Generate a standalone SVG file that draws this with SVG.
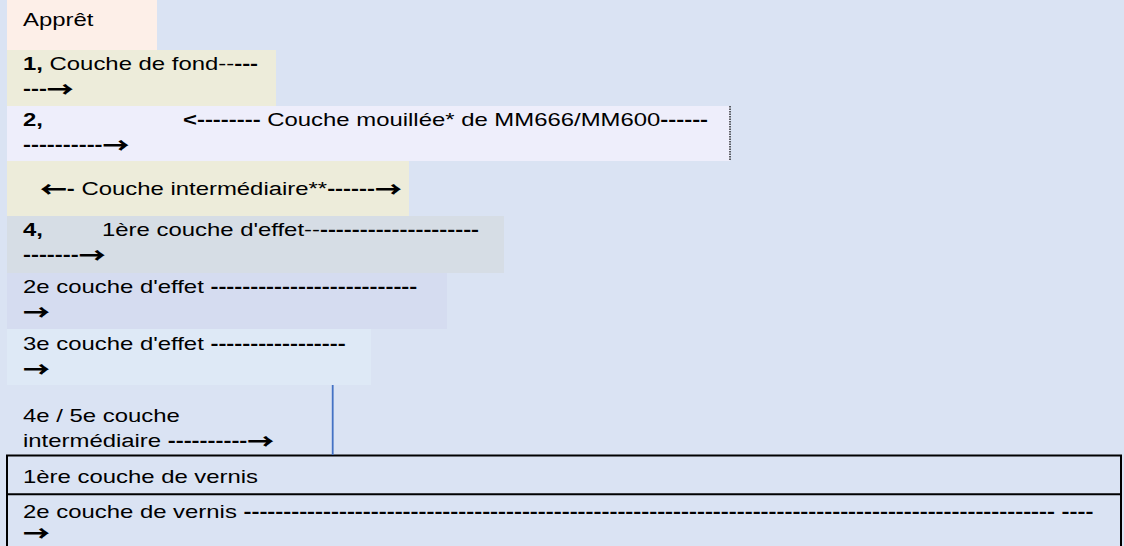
<svg xmlns="http://www.w3.org/2000/svg" width="1124" height="546" viewBox="0 0 1124 546">
<style>
text{font-family:"Liberation Sans",Arial,sans-serif;font-size:18.67px;fill:#000}
.b{font-weight:bold}
.ar{font-family:"Noto Sans CJK SC","DejaVu Sans",sans-serif;font-weight:900;font-size:21px}
.layer{stroke:none}
</style>
<rect x="0" y="0" width="1124" height="546" fill="#DAE3F3"/>
<g id="appret">
<rect class="layer" x="7" y="0" width="150" height="50" fill="#FDEFE8"/>
<text transform="translate(23,26) scale(1.28,1)">Apprêt</text>
</g>
<g id="couche-fond">
<rect class="layer" x="7" y="50" width="269" height="56" fill="#EDECDA"/>
<text transform="translate(23,70) scale(1.28,1)"><tspan class="b">1,</tspan> Couche de fond--<tspan class="b">---</tspan></text>
<text class="b" transform="translate(23,95) scale(1.28,1)">---<tspan class="ar" dy="2">→</tspan></text>
</g>
<g id="couche-mouillee">
<rect class="layer" x="7" y="106" width="723" height="55" fill="#EEEEFB"/>
<text class="b" transform="translate(23,126) scale(1.28,1)">2,</text>
<text transform="translate(183,126) scale(1.28,1)"><tspan class="b">&lt;--------</tspan> Couche mouillée* de MM666/MM600<tspan class="b">------</tspan></text>
<text class="b" transform="translate(23,151) scale(1.28,1)">----------<tspan class="ar" dy="2">→</tspan></text>
</g>
<g id="couche-intermediaire">
<rect class="layer" x="7" y="161" width="402" height="55" fill="#EDECDA"/>
<text transform="translate(40,195) scale(1.28,1)"><tspan class="ar" dy="2">←</tspan><tspan class="b" dy="-2">-</tspan> Couche intermédiaire**<tspan class="b">------</tspan><tspan class="ar" dy="2">→</tspan></text>
</g>
<g id="effet-1">
<rect class="layer" x="7" y="216" width="497" height="57" fill="#D6DDE5"/>
<text class="b" transform="translate(23,236) scale(1.28,1)">4,</text>
<text transform="translate(102,236) scale(1.28,1)">1ère couche d'effet--<tspan class="b">--------------------</tspan></text>
<text class="b" transform="translate(23,261) scale(1.28,1)">-------<tspan class="ar" dy="2">→</tspan></text>
</g>
<g id="effet-2">
<rect class="layer" x="7" y="273" width="440" height="56" fill="#D5DCF0"/>
<text transform="translate(23,293) scale(1.28,1)">2e couche d'effet <tspan class="b">--------------------------</tspan></text>
<text class="ar" transform="translate(23,320) scale(1.28,1)">→</text>
</g>
<g id="effet-3">
<rect class="layer" x="7" y="329" width="364" height="56" fill="#DEE9F6"/>
<text transform="translate(23,350) scale(1.28,1)">3e couche d'effet <tspan class="b">-----------------</tspan></text>
<text class="ar" transform="translate(23,377) scale(1.28,1)">→</text>
</g>
<g id="intermediaire-4-5">
<text transform="translate(23,422) scale(1.28,1)">4e / 5e couche</text>
<text transform="translate(23,447) scale(1.28,1)">intermédiaire <tspan class="b">----------</tspan><tspan class="ar" dy="2">→</tspan></text>
</g>
<g id="vernis">
<rect x="7" y="455.5" width="1114" height="100" fill="none" stroke="#000" stroke-width="2"/>
<line x1="7" y1="494.3" x2="1121" y2="494.3" stroke="#000" stroke-width="2"/>
<text transform="translate(23,483) scale(1.28,1)">1ère couche de vernis</text>
<text transform="translate(23,518) scale(1.28,1)">2e couche de vernis <tspan class="b">------------------------------------------------------------------------------------------------------ ----</tspan></text>
<text class="ar" transform="translate(23,541) scale(1.28,1)">→</text>
</g>
<g id="connectors">
<line x1="730" y1="106" x2="730" y2="161" stroke="#000" stroke-width="1.2" stroke-dasharray="1.5 1"/>
<line x1="332.7" y1="385" x2="332.7" y2="455" stroke="#4472C4" stroke-width="1.8"/>
</g>
</svg>
